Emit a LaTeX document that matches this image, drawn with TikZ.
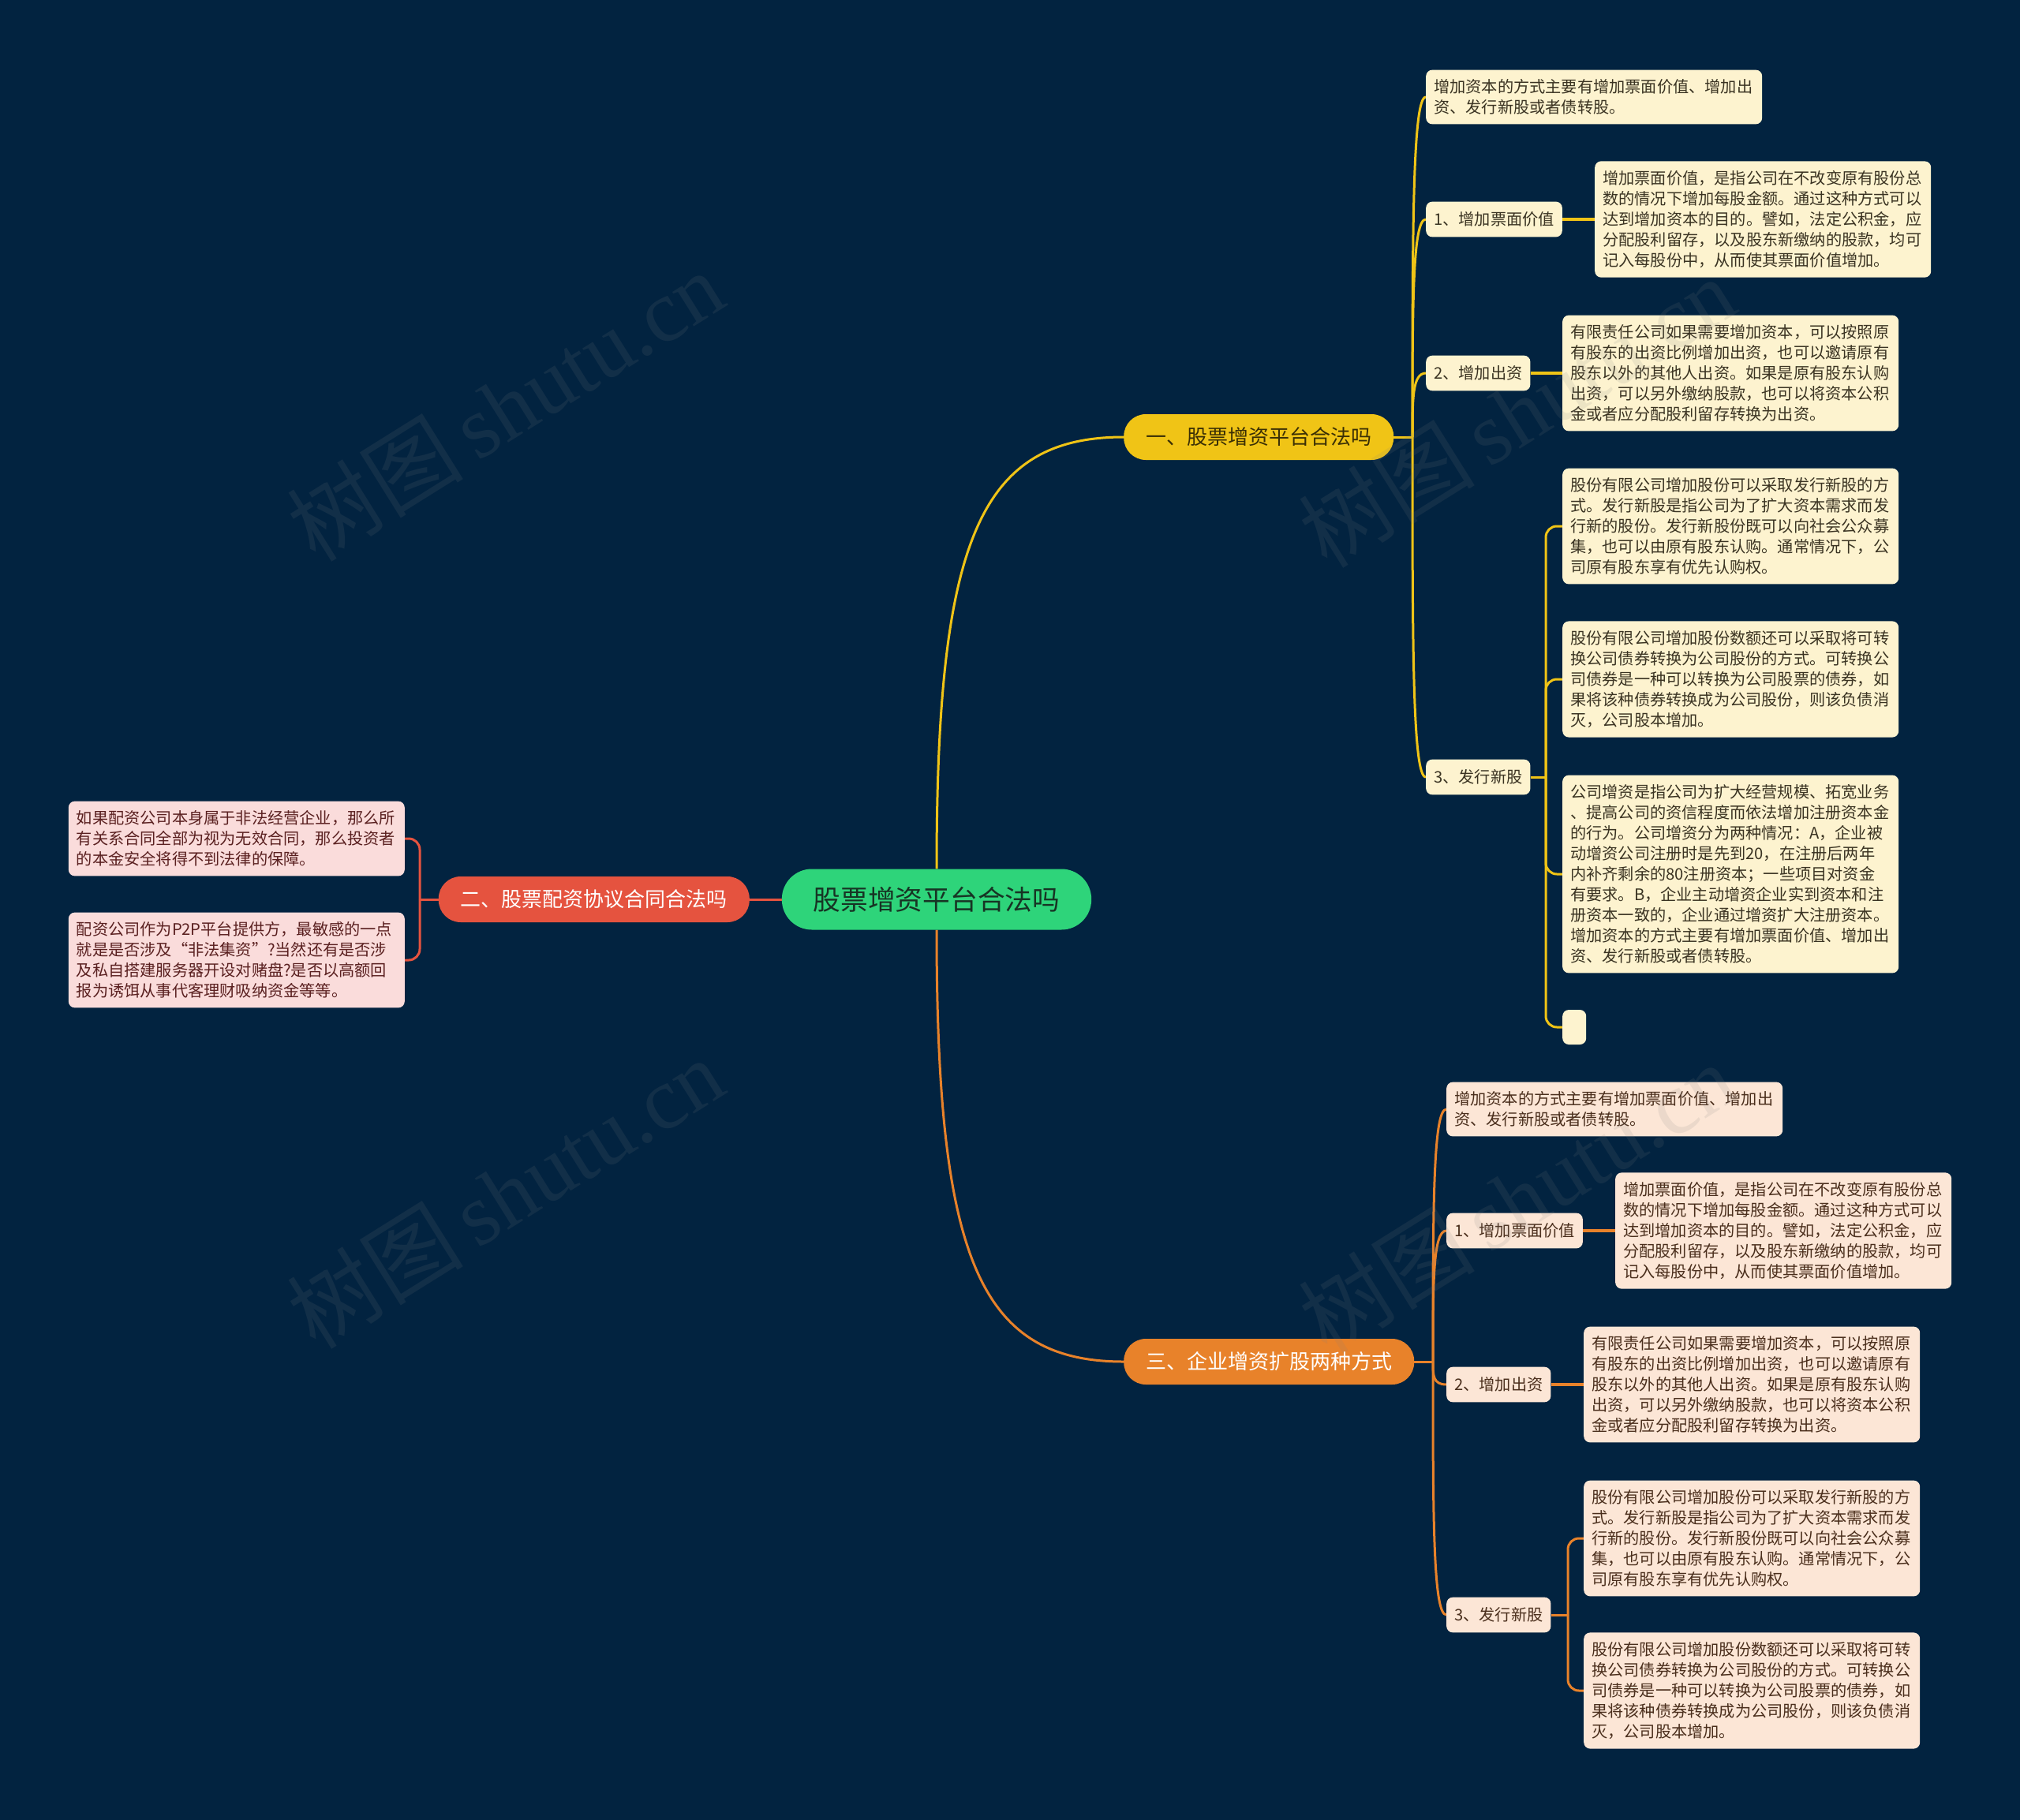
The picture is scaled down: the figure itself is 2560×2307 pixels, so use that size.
\documentclass[tikz,border=0pt]{standalone}
\usepackage{fontspec}
\setmainfont{Noto Sans CJK SC}
\newfontfamily\wmlatin{Liberation Serif}
\definecolor{bgc}{HTML}{022340}
\definecolor{rootc}{HTML}{2ED47A}
\definecolor{roott}{HTML}{173424}
\definecolor{yelc}{HTML}{F0C416}
\definecolor{yelt}{HTML}{3A2F05}
\definecolor{redc}{HTML}{E5533F}
\definecolor{orgc}{HTML}{E8822A}
\definecolor{ycard}{HTML}{FDF3CF}
\definecolor{ytext}{HTML}{3A3322}
\definecolor{ocard}{HTML}{FCE6D6}
\definecolor{otext}{HTML}{4A2E1C}
\definecolor{pcard}{HTML}{FADCDB}
\definecolor{ptext}{HTML}{5A2020}
\pgfdeclarelayer{lines}
\pgfsetlayers{lines,main}
\tikzset{
  txt/.style={font=\fontsize{20.2pt}{26pt}\selectfont},
  card/.style={txt, rounded corners=8pt, inner xsep=10pt, inner ysep=12pt, text width=406pt, align=left, anchor=west},
  topic/.style={txt, rounded corners=8pt, inner xsep=10pt, inner ysep=13pt, anchor=west},
  ycardst/.style={card, fill=ycard, text=ytext},
  ytopic/.style={topic, fill=ycard, text=ytext},
  ocardst/.style={card, fill=ocard, text=otext},
  otopic/.style={topic, fill=ocard, text=otext},
  pcardst/.style={card, fill=pcard, text=ptext},
  branch/.style={font=\fontsize{26pt}{30pt}\selectfont, rounded corners=28pt, minimum height=58pt, inner xsep=28pt},
  yline/.style={draw=yelc, line width=3pt},
  oline/.style={draw=orgc, line width=3pt},
  rline/.style={draw=redc, line width=3pt},
  elbow/.style={rounded corners=14pt},
  wm/.style={font=\fontsize{112pt}{112pt}\selectfont, text=gray, opacity=0.13, rotate=32},
}
\begin{document}
\begin{tikzpicture}[x=1pt,y=-1pt]
\begin{pgfonlayer}{lines}
\fill[bgc] (0,0) rectangle (2560,2307);
\end{pgfonlayer}
\useasboundingbox (0,0) rectangle (2560,2307);

% root and branches
\node[font=\fontsize{34.7pt}{38pt}\selectfont, fill=rootc, text=roott, rounded corners=38pt, minimum height=77pt, inner xsep=40pt] (root) at (1187,1140) {股票增资平台合法吗};
\node[branch, fill=yelc, text=yelt, anchor=west] (b1) at (1424,554) {一、股票增资平台合法吗};
\node[branch, fill=redc, text=white, anchor=east] (b2) at (950,1140) {二、股票配资协议合同合法吗};
\node[branch, fill=orgc, text=white, anchor=west] (b3) at (1424,1726) {三、企业增资扩股两种方式};

% branch 1
\node[ycardst] (c10) at (1807,123) {增加资本的方式主要有增加票面价值、增加出\\资、发行新股或者债转股。};
\node[ytopic] (t11) at (1807,278) {1、增加票面价值};
\node[ycardst] (d11) at (2021,278) {增加票面价值，是指公司在不改变原有股份总\\数的情况下增加每股金额。通过这种方式可以\\达到增加资本的目的。譬如，法定公积金，应\\分配股利留存，以及股东新缴纳的股款，均可\\记入每股份中，从而使其票面价值增加。};
\node[ytopic] (t12) at (1807,473) {2、增加出资};
\node[ycardst] (d12) at (1980,473) {有限责任公司如果需要增加资本，可以按照原\\有股东的出资比例增加出资，也可以邀请原有\\股东以外的其他人出资。如果是原有股东认购\\出资，可以另外缴纳股款，也可以将资本公积\\金或者应分配股利留存转换为出资。};
\node[ytopic] (t13) at (1807,985) {3、发行新股};
\node[ycardst] (d13a) at (1980,667) {股份有限公司增加股份可以采取发行新股的方\\式。发行新股是指公司为了扩大资本需求而发\\行新的股份。发行新股份既可以向社会公众募\\集，也可以由原有股东认购。通常情况下，公\\司原有股东享有优先认购权。};
\node[ycardst] (d13b) at (1980,861) {股份有限公司增加股份数额还可以采取将可转\\换公司债券转换为公司股份的方式。可转换公\\司债券是一种可以转换为公司股票的债券，如\\果将该种债券转换成为公司股份，则该负债消\\灭，公司股本增加。};
\node[ycardst] (d13c) at (1980,1108) {公司增资是指公司为扩大经营规模、拓宽业务\\、提高公司的资信程度而依法增加注册资本金\\的行为。公司增资分为两种情况：A，企业被\\动增资公司注册时是先到20，在注册后两年\\内补齐剩余的80注册资本；一些项目对资金\\有要求。B，企业主动增资企业实到资本和注\\册资本一致的，企业通过增资扩大注册资本。\\增加资本的方式主要有增加票面价值、增加出\\资、发行新股或者债转股。};
\node[fill=ycard, rounded corners=8pt, minimum width=30pt, minimum height=44pt, inner sep=0pt, anchor=west] (d13d) at (1980,1302) {};

% branch 3
\node[ocardst] (c30) at (1833,1406) {增加资本的方式主要有增加票面价值、增加出\\资、发行新股或者债转股。};
\node[otopic] (t31) at (1833,1560) {1、增加票面价值};
\node[ocardst] (d31) at (2047,1560) {增加票面价值，是指公司在不改变原有股份总\\数的情况下增加每股金额。通过这种方式可以\\达到增加资本的目的。譬如，法定公积金，应\\分配股利留存，以及股东新缴纳的股款，均可\\记入每股份中，从而使其票面价值增加。};
\node[otopic] (t32) at (1833,1755) {2、增加出资};
\node[ocardst] (d32) at (2007,1755) {有限责任公司如果需要增加资本，可以按照原\\有股东的出资比例增加出资，也可以邀请原有\\股东以外的其他人出资。如果是原有股东认购\\出资，可以另外缴纳股款，也可以将资本公积\\金或者应分配股利留存转换为出资。};
\node[otopic] (t33) at (1833,2047) {3、发行新股};
\node[ocardst] (d33a) at (2007,1950) {股份有限公司增加股份可以采取发行新股的方\\式。发行新股是指公司为了扩大资本需求而发\\行新的股份。发行新股份既可以向社会公众募\\集，也可以由原有股东认购。通常情况下，公\\司原有股东享有优先认购权。};
\node[ocardst] (d33b) at (2007,2143) {股份有限公司增加股份数额还可以采取将可转\\换公司债券转换为公司股份的方式。可转换公\\司债券是一种可以转换为公司股票的债券，如\\果将该种债券转换成为公司股份，则该负债消\\灭，公司股本增加。};

% branch 2
\node[pcardst, anchor=east] (p1) at (513,1063) {如果配资公司本身属于非法经营企业，那么所\\有关系合同全部为视为无效合同，那么投资者\\的本金安全将得不到法律的保障。};
\node[pcardst, anchor=east] (p2) at (513,1217) {配资公司作为P2P平台提供方，最敏感的一点\\就是是否涉及“非法集资”?当然还有是否涉\\及私自搭建服务器开设对赌盘?是否以高额回\\报为诱饵从事代客理财吸纳资金等等。};

% connectors
\begin{pgfonlayer}{lines}
\draw[yline] (root.north) .. controls (1187,686) and (1241,554) .. (b1.west);
\draw[oline] (root.south) .. controls (1187,1595) and (1241,1726) .. (b3.west);
\draw[rline] (root.west) -- (b2.east);
% branch 1 trunk
\draw[yline] (b1.east) -- (1790,554);
\foreach \n/\y in {c10/123,t11/278,t12/473,t13/985}
  \draw[yline] (1790,554) .. controls (1790,{554+0.6*(\y-554)}) and (1790,\y) .. (\n.west);
\draw[yline] (t13.east) -- (1959,985);
\foreach \n in {d13a,d13b,d13c,d13d}
  \draw[yline, elbow] (1959,985) |- (\n.west);
\draw[yline, line width=4.5pt] (t11.east) -- (d11.west);
\draw[yline, line width=4.5pt] (t12.east) -- (d12.west);
% branch 3 trunk
\draw[oline] (b3.east) -- (1816,1726);
\foreach \n/\y in {c30/1406,t31/1560,t32/1755,t33/2047}
  \draw[oline] (1816,1726) .. controls (1816,{1726+0.6*(\y-1726)}) and (1816,\y) .. (\n.west);
\draw[oline] (t33.east) -- (1987,2047);
\foreach \n in {d33a,d33b}
  \draw[oline, elbow] (1987,2047) |- (\n.west);
\draw[oline, line width=4.5pt] (t31.east) -- (d31.west);
\draw[oline, line width=4.5pt] (t32.east) -- (d32.west);
% branch 2 trunk
\draw[rline] (b2.west) -- (532,1140);
\foreach \n in {p1,p2}
  \draw[rline, elbow] (532,1140) |- (\n.east);
\end{pgfonlayer}

% watermarks
\node[wm] (wm1) at (640,514) {树图\,{\wmlatin shutu.cn}};
\node[wm] (wm2) at (640,1512) {树图\,{\wmlatin shutu.cn}};
\node[wm] (wm3) at (1922,522) {树图\,{\wmlatin shutu.cn}};
\node[wm] (wm4) at (1922,1518) {树图\,{\wmlatin shutu.cn}};
\end{tikzpicture}
\end{document}
